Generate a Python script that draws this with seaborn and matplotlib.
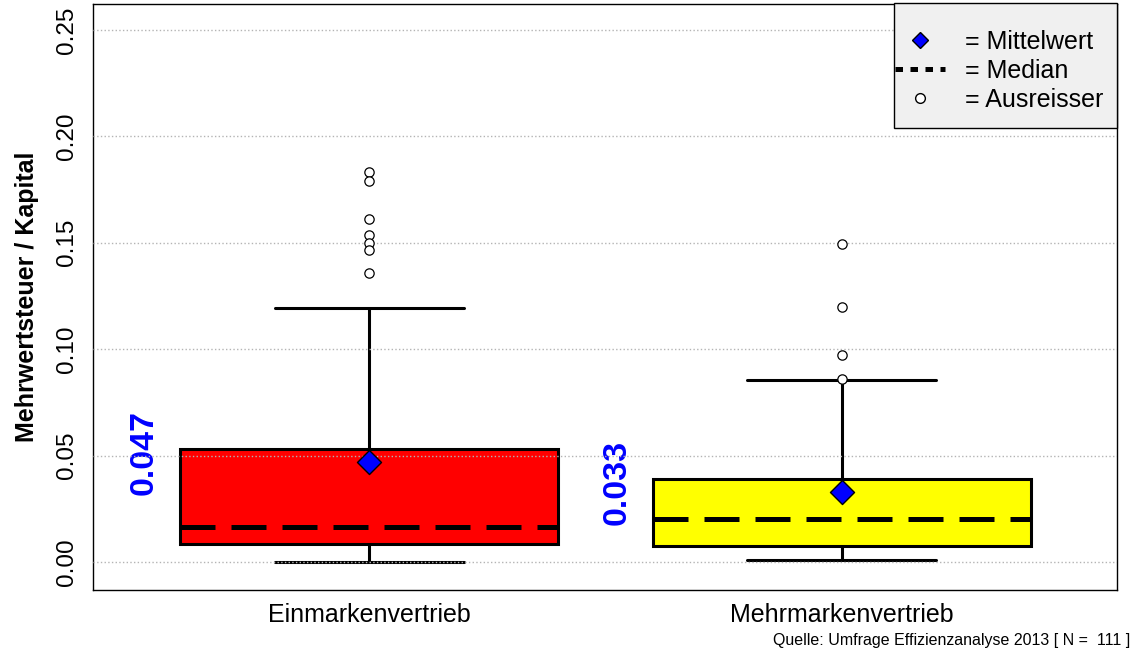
import numpy as np
import matplotlib
matplotlib.use("Agg")
import matplotlib.pyplot as plt
import seaborn as sns
from matplotlib.lines import Line2D
from matplotlib.patches import Rectangle

# Werte
groups = ["Einmarkenvertrieb", "Mehrmarkenvertrieb"]
q1 = [0.0085, 0.0075]
medians = [0.0164, 0.0202]
q3 = [0.0531, 0.0390]
whisker_lo = [0.0, 0.001]
whisker_hi = [0.1194, 0.0855]
means = [0.047, 0.033]
outliers_ein = [0.1833, 0.1790, 0.1610, 0.1537, 0.1500, 0.1466, 0.1358]
outliers_mehr = [0.1494, 0.1198, 0.0973, 0.0860]
box_colors = ["#ff0000", "#ffff00"]
y_ticks = [0.0, 0.05, 0.10, 0.15, 0.20, 0.25]

sns.set_style("white")
plt.rcParams['font.family'] = ['Liberation Sans', 'DejaVu Sans']
plt.rcParams['text.color'] = 'black'
plt.rcParams['xtick.color'] = 'black'
plt.rcParams['ytick.color'] = 'black'
plt.rcParams['axes.labelcolor'] = 'black'

fig = plt.figure(figsize=(11.34, 6.57), dpi=100)
ax = fig.add_axes([93 / 1134, 1 - 590 / 657, 1024 / 1134, 586 / 657])

positions = [1, 2]
stats = []
for i, g in enumerate(groups):
    stats.append({
        "label": g, "q1": q1[i], "med": medians[i], "q3": q3[i],
        "whislo": whisker_lo[i], "whishi": whisker_hi[i], "fliers": [],
    })

bp = ax.bxp(stats, positions=positions, widths=0.8, capwidths=0.4,
            patch_artist=True, showfliers=False, zorder=3,
            boxprops=dict(linewidth=2.2, edgecolor="black"),
            whiskerprops=dict(linewidth=2.2, color="black"),
            capprops=dict(linewidth=2.2, color="black"),
            medianprops=dict(linewidth=3.6, color="black", dashes=(7, 3.2)))
for patch, c in zip(bp["boxes"], box_colors):
    patch.set_facecolor(c)

# Gitterlinien über den Boxen (wie im Original)
for v in y_ticks:
    ax.axhline(v, linestyle=":", color="#b4b4b4", linewidth=1, zorder=3.5)

# Ausreisser
out_x = [1] * len(outliers_ein) + [2] * len(outliers_mehr)
out_y = outliers_ein + outliers_mehr
sns.scatterplot(x=out_x, y=out_y, ax=ax, marker="o", s=45, facecolor="white",
                edgecolor="black", linewidth=0.9, zorder=4, legend=False)

# Mittelwerte
sns.scatterplot(x=positions, y=means, ax=ax, marker="D", s=150, color="#0000ff",
                edgecolor="black", linewidth=1.0, zorder=5, legend=False)
for p, m in zip(positions, means):
    ax.text(p - 0.476, m + 0.0043, f"{m:.3f}", rotation=90, ha="center", va="center",
            color="#0000ff", fontsize=24.5, fontweight="bold")

ax.set_xlim(0.416, 2.582)
ax.set_ylim(-0.0132, 0.2622)
ax.set_yticks(y_ticks)
ax.set_yticklabels([f"{v:.2f}" for v in y_ticks], rotation=90, va="center", fontsize=17.5)
ax.set_xticks(positions)
ax.set_xticklabels(groups, fontsize=18)
ax.tick_params(axis="both", direction="out", length=7, width=1, color="black", pad=4)
ax.tick_params(axis="x", pad=2)
for s in ax.spines.values():
    s.set_color("black")
    s.set_linewidth(1)
ax.set_ylabel("Mehrwertsteuer / Kapital", fontsize=18, fontweight="bold", labelpad=12)

# Legendenrahmen
ax.add_patch(Rectangle((801 / 1024, 1 - 124 / 586), 223 / 1024, 125 / 586,
                       transform=ax.transAxes, facecolor="#f0f0f0", edgecolor="black",
                       linewidth=1, zorder=9, clip_on=False))
handles = [
    Line2D([], [], marker="D", color="none", markerfacecolor="#0000ff",
           markeredgecolor="black", markersize=8.5),
    Line2D([], [], color="black", linewidth=3.6, dashes=(1.5, 1.5)),
    Line2D([], [], marker="o", color="none", markerfacecolor="white",
           markeredgecolor="black", markersize=7),
]
leg = ax.legend(handles, ["= Mittelwert", "= Median", "= Ausreisser"],
                loc="center", bbox_to_anchor=(906 / 1024, 1 - 67 / 586),
                fontsize=18, frameon=False, handlelength=2.0,
                handletextpad=0.8, labelspacing=0.2, borderpad=0)
leg.set_zorder(10)

fig.text(1130 / 1134, 1 - 641 / 657, "Quelle: Umfrage Effizienzanalyse 2013 [ N =  111 ]",
         ha="right", va="center", fontsize=11.5)

fig.savefig("out.png", dpi=100)
